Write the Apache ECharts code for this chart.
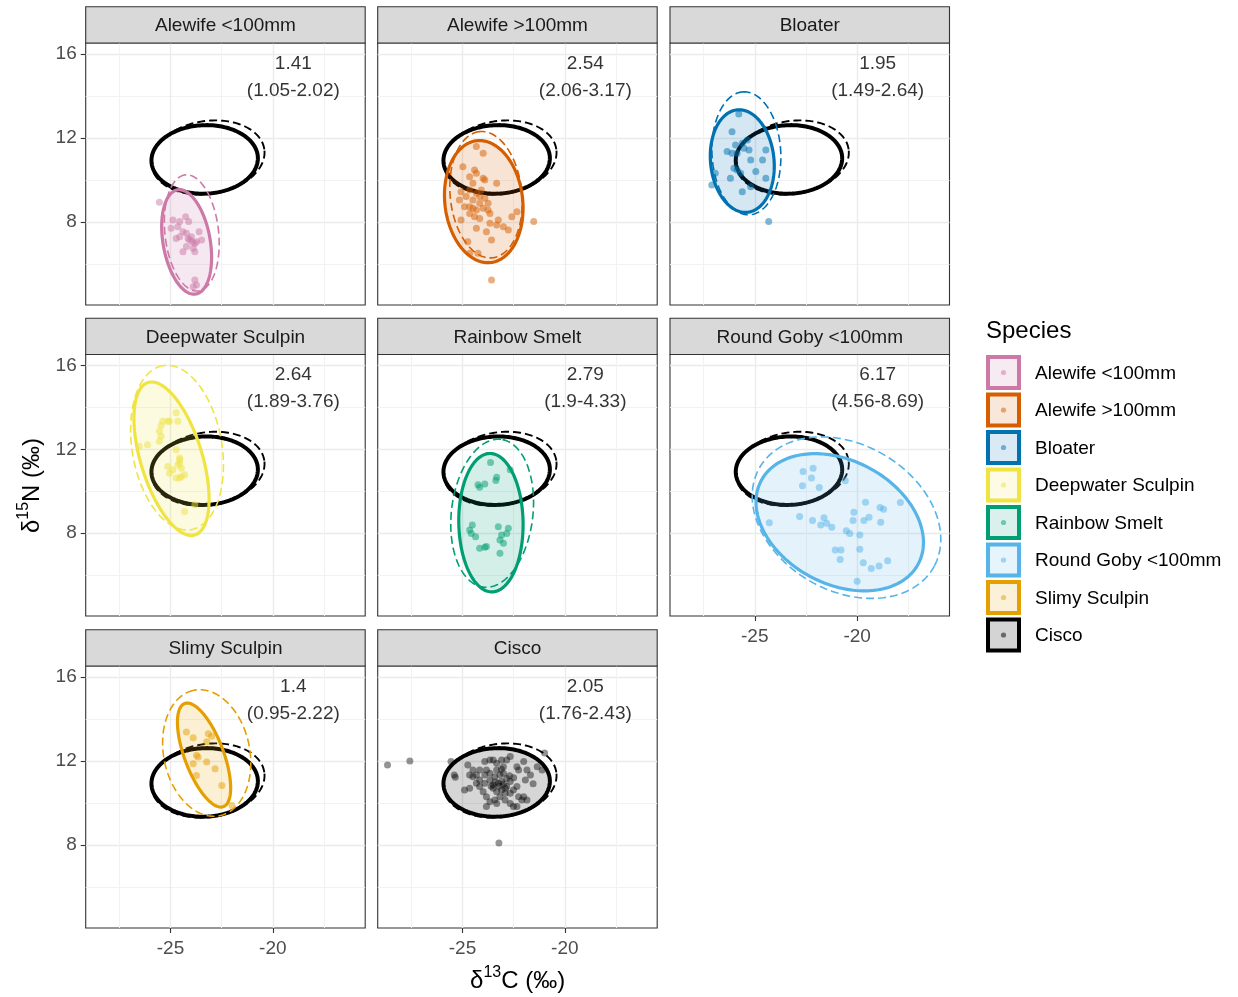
<!DOCTYPE html>
<html>
<head>
<meta charset="utf-8">
<title>Isotopic niche ellipses</title>
<script src="https://cdn.jsdelivr.net/npm/echarts@6/dist/echarts.min.js"></script>
<style>
  html, body { margin: 0; padding: 0; background: #ffffff; }
  #chart { width: 1238px; height: 997px; }
</style>
</head>
<body>
<div id="chart"></div>
<script>
// ---- data -------------------------------------------------------------
const species = ['Alewife <100mm', 'Alewife >100mm', 'Bloater', 'Deepwater Sculpin',
                 'Rainbow Smelt', 'Round Goby <100mm', 'Slimy Sculpin', 'Cisco'];
const speciesColors = ['#CC79A7', '#D55E00', '#0072B2', '#F0E442',
                       '#009E73', '#56B4E9', '#E69F00', '#000000'];

// standard ellipse area (median) and credible interval per species
const areaValues = ['1.41', '2.54', '1.95', '2.64', '2.79', '6.17', '1.4', '2.05'];
const areaIntervals = ['(1.05-2.02)', '(2.06-3.17)', '(1.49-2.64)', '(1.89-3.76)',
                       '(1.9-4.33)', '(4.56-8.69)', '(0.95-2.22)', '(1.76-2.43)'];

// ellipses: [mean d13C, mean d15N, semi-major, semi-minor, angle in degrees]
const solidEllipses = [
  [-24.21, 7.05, 2.52, 1.15, 100.4],
  [-23.96, 8.97, 2.92, 1.90, 97],
  [-25.61, 10.90, 2.45, 1.55, 96],
  [-24.95, 11.55, 3.81, 1.50, 107.6],
  [-23.61, 8.50, 3.30, 1.57, 91],
  [-20.85, 8.52, 4.32, 2.96, -26.3],
  [-23.36, 12.28, 2.63, 0.95, 111.2],
  [-23.33, 10.98, 2.60, 1.63, 2]
];
const dashedEllipses = [
  [-23.96, 7.48, 2.78, 1.31, 96.6],
  [-23.85, 9.30, 3.02, 1.75, 96],
  [-25.41, 11.27, 2.93, 1.68, 93],
  [-24.68, 12.08, 3.97, 2.19, 100.2],
  [-23.55, 8.95, 3.55, 1.99, 83],
  [-20.52, 8.74, 4.87, 3.51, -28],
  [-23.23, 12.38, 3.05, 2.10, 102.5],
  [-23.17, 11.07, 2.78, 1.74, 8]
];

// individual fish: [d13C, d15N]
const ptsAlewifeSmall = [
  [-25.54, 8.94], [-24.88, 8.10], [-24.55, 8.02], [-24.26, 8.25], [-24.11, 8.02], [-24.97, 7.70],
  [-24.64, 7.78], [-24.39, 7.54], [-24.22, 7.46], [-23.60, 7.54], [-23.48, 7.14], [-24.72, 7.22],
  [-24.55, 7.30], [-24.06, 7.14], [-23.93, 7.06], [-23.81, 6.98], [-23.73, 7.06], [-24.22, 6.83],
  [-24.39, 6.59], [-23.89, 6.75], [-23.81, 6.59], [-23.98, 7.30], [-23.81, 5.24], [-23.73, 5.00],
  [-23.89, 4.92], [-24.14, 7.22]
];
const ptsAlewifeLarge = [
  [-24.32, 11.59], [-23.99, 11.27], [-24.98, 10.63], [-24.41, 10.48], [-24.32, 10.32], [-24.65, 10.16],
  [-23.99, 10.08], [-24.49, 9.84], [-23.91, 10.00], [-23.33, 9.84], [-25.07, 9.44], [-24.65, 9.52],
  [-24.32, 9.37], [-24.16, 9.21], [-23.91, 9.13], [-24.82, 9.21], [-24.49, 9.05], [-24.16, 8.89],
  [-24.65, 8.73], [-24.90, 8.73], [-24.32, 8.57], [-23.99, 8.65], [-23.75, 8.57], [-24.65, 8.41],
  [-25.07, 8.10], [-24.41, 8.25], [-24.16, 8.17], [-23.66, 7.94], [-23.25, 8.10], [-23.33, 7.86],
  [-23.00, 7.78], [-22.76, 7.62], [-24.32, 7.70], [-23.83, 7.54], [-24.74, 7.06], [-23.58, 7.14],
  [-24.65, 6.51], [-22.59, 8.25], [-22.34, 8.49], [-21.52, 8.02], [-23.58, 5.24], [-24.24, 6.51],
  [-25.15, 9.05], [-23.75, 8.89], [-24.49, 8.65], [-24.08, 9.52], [-23.66, 8.41]
];
const ptsBloater = [
  [-25.78, 13.14], [-26.11, 12.30], [-25.61, 11.75], [-25.94, 11.67], [-26.35, 11.35], [-26.11, 11.27],
  [-25.86, 11.27], [-25.53, 11.51], [-25.28, 11.43], [-25.20, 10.95], [-24.62, 10.95], [-24.46, 11.43],
  [-25.86, 10.48], [-26.02, 10.56], [-25.69, 10.32], [-26.19, 10.08], [-27.10, 9.76], [-25.61, 9.44],
  [-25.20, 9.68], [-24.46, 10.08], [-24.32, 8.02], [-26.93, 10.32], [-24.95, 10.40], [-25.36, 11.90]
];
const ptsDeepwater = [
  [-24.72, 13.74], [-25.13, 13.34], [-25.05, 13.34], [-25.38, 13.34], [-24.64, 13.34], [-25.46, 13.13],
  [-25.54, 12.86], [-25.46, 12.62], [-25.54, 12.38], [-26.12, 12.22], [-26.53, 12.14], [-24.72, 11.98],
  [-24.55, 11.58], [-24.55, 11.34], [-24.64, 11.26], [-25.13, 11.18], [-24.47, 11.10], [-24.31, 10.78],
  [-24.47, 10.70], [-24.72, 10.63], [-25.05, 10.86], [-24.55, 10.63], [-23.81, 9.35], [-24.31, 9.03],
  [-24.55, 11.50], [-24.88, 11.02]
];
const ptsSmelt = [
  [-23.63, 11.37], [-23.33, 10.67], [-23.37, 10.51], [-24.24, 10.31], [-23.91, 10.35], [-24.16, 10.19],
  [-24.52, 8.39], [-24.65, 8.15], [-24.57, 7.99], [-24.36, 7.83], [-23.25, 8.31], [-22.76, 8.23],
  [-22.84, 7.99], [-23.09, 7.91], [-23.17, 7.67], [-23.00, 7.52], [-24.16, 7.28], [-23.91, 7.33],
  [-23.83, 7.36], [-23.17, 7.04], [-22.67, 11.02]
];
const ptsGoby = [
  [-22.64, 10.94], [-22.15, 11.10], [-22.23, 10.63], [-22.67, 10.26], [-21.85, 10.18], [-20.58, 10.50],
  [-19.59, 9.48], [-18.88, 9.22], [-18.71, 9.14], [-17.89, 9.46], [-22.81, 8.79], [-22.18, 8.60],
  [-21.78, 8.39], [-21.62, 8.74], [-21.49, 8.47], [-21.24, 8.28], [-20.53, 8.11], [-20.36, 7.99],
  [-20.16, 9.00], [-20.20, 8.60], [-19.67, 8.60], [-19.42, 8.76], [-18.85, 8.52], [-19.87, 7.91],
  [-19.87, 7.23], [-21.07, 7.20], [-20.79, 7.20], [-20.83, 6.75], [-19.70, 6.59], [-19.31, 6.32],
  [-18.93, 6.43], [-18.51, 6.69], [-20.00, 5.71], [-24.29, 8.50]
];
const ptsSlimy = [
  [-24.22, 13.38], [-23.89, 13.11], [-23.15, 13.30], [-22.99, 13.18], [-23.23, 12.91], [-23.73, 12.27],
  [-23.65, 12.19], [-23.89, 11.87], [-23.23, 11.95], [-22.82, 11.63], [-23.73, 11.31], [-22.49, 10.83],
  [-22.00, 9.88]
];
const ptsCisco = [
  [-28.66, 11.81], [-27.57, 12.00], [-20.99, 12.38], [-23.22, 8.10],
  [-25.56, 11.97], [-25.40, 11.33], [-25.35, 11.22], [-24.90, 10.62], [-24.74, 11.81],
  [-24.49, 11.57], [-24.32, 11.33], [-24.16, 11.57], [-23.91, 11.97], [-23.83, 11.57], [-23.66, 12.05],
  [-23.50, 12.05], [-23.33, 11.89], [-23.09, 12.05], [-23.00, 11.73], [-22.84, 12.05], [-22.67, 12.21],
  [-22.34, 11.73], [-22.26, 11.57], [-22.01, 11.97], [-21.85, 11.57], [-21.68, 11.33], [-21.55, 10.91],
  [-21.93, 11.10], [-22.34, 10.78], [-22.51, 10.62], [-22.26, 10.30], [-22.01, 10.30], [-21.85, 10.14],
  [-22.10, 10.14], [-22.34, 9.83], [-22.67, 9.98], [-22.92, 10.14], [-23.17, 10.30], [-23.42, 10.14],
  [-23.66, 10.06], [-23.83, 10.30], [-23.99, 10.54], [-24.16, 10.78], [-24.32, 10.94], [-24.49, 11.25],
  [-24.65, 11.33], [-24.16, 11.10], [-23.91, 10.94], [-23.66, 11.10], [-23.42, 11.25], [-23.17, 11.33],
  [-23.00, 11.41], [-22.84, 11.17], [-22.67, 11.02], [-22.84, 10.78], [-23.09, 10.62], [-23.33, 10.54],
  [-23.50, 10.70], [-23.25, 10.94], [-23.09, 11.02], [-23.66, 11.41], [-23.91, 11.33], [-22.92, 10.46],
  [-23.33, 9.98], [-22.67, 10.46], [-23.83, 9.83], [-22.51, 9.83], [-21.35, 11.73], [-21.11, 11.57],
  [-24.65, 10.70], [-23.33, 11.57], [-23.50, 10.86], [-23.00, 10.90], [-23.20, 10.80], [-22.90, 10.70],
  [-23.40, 11.00], [-22.70, 11.30], [-23.60, 10.80], [-22.50, 11.20], [-23.10, 11.60]
];
const speciesPoints = [ptsAlewifeSmall, ptsAlewifeLarge, ptsBloater, ptsDeepwater,
                       ptsSmelt, ptsGoby, ptsSlimy, ptsCisco];

// axes
const xRange = [-29.14, -15.49];
const yRange = [4.05, 16.52];
const xMajorTicks = [-25, -20];
const xMinorTicks = [-27.5, -22.5, -17.5];
const yMajorTicks = [8, 12, 16];
const yMinorTicks = [6, 10, 14];
const annotX = -19;
const annotY = 14.9;

// ---- layout -----------------------------------------------------------
const FONT = '"Liberation Sans", Arial, Helvetica, sans-serif';
const colLeft = [85.7, 377.7, 670];
const rowTop = [43, 354.5, 666];
const panelW = 279.5;
const panelH = [262, 261.5, 262];
const stripH = 36.3;
const panelSlot = [[0, 0], [1, 0], [2, 0], [0, 1], [1, 1], [2, 1], [0, 2], [1, 2]];
const xLabelPanels = [5, 6, 7];
const yLabelPanels = [0, 3, 6];
const CISCO = species.indexOf('Cisco');

function rgba(hex, a) {
  const n = parseInt(hex.slice(1), 16);
  return 'rgba(' + ((n >> 16) & 255) + ',' + ((n >> 8) & 255) + ',' + (n & 255) + ',' + a + ')';
}

const grids = [], xAxes = [], yAxes = [], series = [], graphics = [];

function ellipseSeries(gi, params, style, z) {
  return {
    type: 'custom',
    coordinateSystem: 'cartesian2d',
    xAxisIndex: 2 * gi,
    yAxisIndex: 2 * gi,
    data: [params],
    encode: { x: 0, y: 1 },
    silent: true,
    clip: true,
    z: z,
    renderItem: function (p, api) {
      const cx = api.value(0), cy = api.value(1);
      const a = api.value(2), b = api.value(3);
      const t = api.value(4) * Math.PI / 180;
      const pts = [];
      const N = 180;
      for (let k = 0; k < N; k++) {
        const u = 2 * Math.PI * k / N;
        const ex = a * Math.cos(u), ey = b * Math.sin(u);
        pts.push(api.coord([cx + ex * Math.cos(t) - ey * Math.sin(t),
                            cy + ex * Math.sin(t) + ey * Math.cos(t)]));
      }
      return { type: 'polygon', shape: { points: pts }, style: style };
    }
  };
}

species.forEach(function (name, gi) {
  const col = panelSlot[gi][0], row = panelSlot[gi][1];
  const left = colLeft[col], top = rowTop[row], h = panelH[row];
  const showX = xLabelPanels.indexOf(gi) >= 0;
  const showY = yLabelPanels.indexOf(gi) >= 0;

  grids.push({
    left: left, top: top, width: panelW, height: h,
    show: true, backgroundColor: '#ffffff',
    borderColor: '#333333', borderWidth: 1.1, containLabel: false
  });

  // major axis: ticks, labels and major grid lines
  xAxes.push({
    type: 'value', gridIndex: gi, position: 'bottom',
    min: xRange[0], max: xRange[1],
    axisLine: { show: false },
    axisTick: { show: showX, customValues: xMajorTicks, length: 5, lineStyle: { color: '#333333', width: 1.1 } },
    axisLabel: { show: showX, customValues: xMajorTicks, color: '#4D4D4D', fontSize: 19, fontFamily: FONT, margin: 11 },
    splitLine: { show: true, lineStyle: { color: '#EBEBEB', width: 1.4 } }
  });
  // minor axis: minor grid lines only
  xAxes.push({
    type: 'value', gridIndex: gi, position: 'top',
    min: xRange[0], max: xRange[1],
    axisLine: { show: false },
    axisTick: { show: false, customValues: xMinorTicks },
    axisLabel: { show: false },
    splitLine: { show: true, lineStyle: { color: '#F2F2F2', width: 1 } }
  });
  yAxes.push({
    type: 'value', gridIndex: gi, position: 'left',
    min: yRange[0], max: yRange[1],
    axisLine: { show: false },
    axisTick: { show: showY, customValues: yMajorTicks, length: 5, lineStyle: { color: '#333333', width: 1.1 } },
    axisLabel: { show: showY, customValues: yMajorTicks, color: '#4D4D4D', fontSize: 19, fontFamily: FONT, margin: 9 },
    splitLine: { show: true, lineStyle: { color: '#EBEBEB', width: 1.4 } }
  });
  yAxes.push({
    type: 'value', gridIndex: gi, position: 'right',
    min: yRange[0], max: yRange[1],
    axisLine: { show: false },
    axisTick: { show: false, customValues: yMinorTicks },
    axisLabel: { show: false },
    splitLine: { show: true, lineStyle: { color: '#F2F2F2', width: 1 } }
  });

  const color = speciesColors[gi];

  // reference ellipses for Cisco in every other panel
  if (gi !== CISCO) {
    series.push(ellipseSeries(gi, dashedEllipses[CISCO],
      { fill: 'none', stroke: '#000000', lineWidth: 1.9, lineDash: [8, 4] }, 3));
    series.push(ellipseSeries(gi, solidEllipses[CISCO],
      { fill: 'none', stroke: '#000000', lineWidth: 4 }, 3));
  }

  // this panel's species
  series.push({
    type: 'scatter', xAxisIndex: 2 * gi, yAxisIndex: 2 * gi,
    data: speciesPoints[gi], symbolSize: 7, silent: true, z: 4,
    itemStyle: { color: color, opacity: gi === CISCO ? 0.42 : 0.5 }
  });
  series.push(ellipseSeries(gi, solidEllipses[gi],
    { fill: rgba(color, gi === CISCO ? 0.16 : 0.17), stroke: color, lineWidth: gi === CISCO ? 4 : 3.2 }, 5));
  series.push(ellipseSeries(gi, dashedEllipses[gi],
    { fill: 'none', stroke: color, lineWidth: gi === CISCO ? 1.9 : 1.6, lineDash: [8, 4] }, 5));

  // area annotation
  series.push({
    type: 'scatter', xAxisIndex: 2 * gi, yAxisIndex: 2 * gi,
    data: [[annotX, annotY]], symbolSize: 0, silent: true, z: 6,
    label: {
      show: true, position: 'inside',
      formatter: areaValues[gi] + '\n' + areaIntervals[gi],
      color: '#000000', fontSize: 19, lineHeight: 27, fontFamily: FONT, align: 'center'
    }
  });

  // facet strip
  graphics.push({
    type: 'rect', silent: true, z: 10,
    shape: { x: left, y: top - stripH, width: panelW, height: stripH },
    style: { fill: '#D9D9D9', stroke: '#333333', lineWidth: 1.1 }
  });
  graphics.push({
    type: 'text', silent: true, z: 11,
    x: left + panelW / 2, y: top - stripH / 2 + 1,
    style: { text: name, fill: '#1A1A1A', font: '19px ' + FONT, align: 'center', verticalAlign: 'middle' }
  });
});

// axis titles
graphics.push({
  type: 'text', silent: true, z: 11,
  x: (colLeft[0] + colLeft[2] + panelW) / 2, y: 981,
  style: {
    text: '{t|δ}{s|13}{t|C (‰)}', align: 'center', verticalAlign: 'middle',
    rich: {
      t: { font: '24px ' + FONT, fill: '#000000' },
      s: { font: '16px ' + FONT, fill: '#000000', verticalAlign: 'top', padding: [0, 0, 16, 0] }
    }
  }
});
graphics.push({
  type: 'text', silent: true, z: 11,
  x: 32, y: (rowTop[0] + rowTop[2] + panelH[2]) / 2,
  rotation: Math.PI / 2,
  style: {
    text: '{t|δ}{s|15}{t|N (‰)}', align: 'center', verticalAlign: 'middle',
    rich: {
      t: { font: '24px ' + FONT, fill: '#000000' },
      s: { font: '16px ' + FONT, fill: '#000000', verticalAlign: 'top', padding: [0, 0, 16, 0] }
    }
  }
});

// legend
graphics.push({
  type: 'text', silent: true, z: 11, x: 986, y: 331.5,
  style: { text: 'Species', font: '24px ' + FONT, fill: '#000000', verticalAlign: 'middle' }
});
species.forEach(function (name, i) {
  const cy = 372.5 + i * 37.5;
  const color = speciesColors[i];
  graphics.push({
    type: 'rect', silent: true, z: 11,
    shape: { x: 988, y: cy - 15.5, width: 31, height: 31 },
    style: { fill: rgba(color, i === CISCO ? 0.17 : 0.15), stroke: color, lineWidth: 4 }
  });
  graphics.push({
    type: 'circle', silent: true, z: 12,
    shape: { cx: 1003.5, cy: cy, r: 2.6 },
    style: { fill: rgba(color, 0.5) }
  });
  graphics.push({
    type: 'text', silent: true, z: 11, x: 1035, y: cy + 1,
    style: { text: name, font: '19px ' + FONT, fill: '#000000', verticalAlign: 'middle' }
  });
});

const chart = echarts.init(document.getElementById('chart'), null, { renderer: 'canvas' });
chart.setOption({
  backgroundColor: '#ffffff',
  animation: false,
  textStyle: { fontFamily: FONT },
  grid: grids,
  xAxis: xAxes,
  yAxis: yAxes,
  series: series,
  graphic: graphics
});
</script>
</body>
</html>
